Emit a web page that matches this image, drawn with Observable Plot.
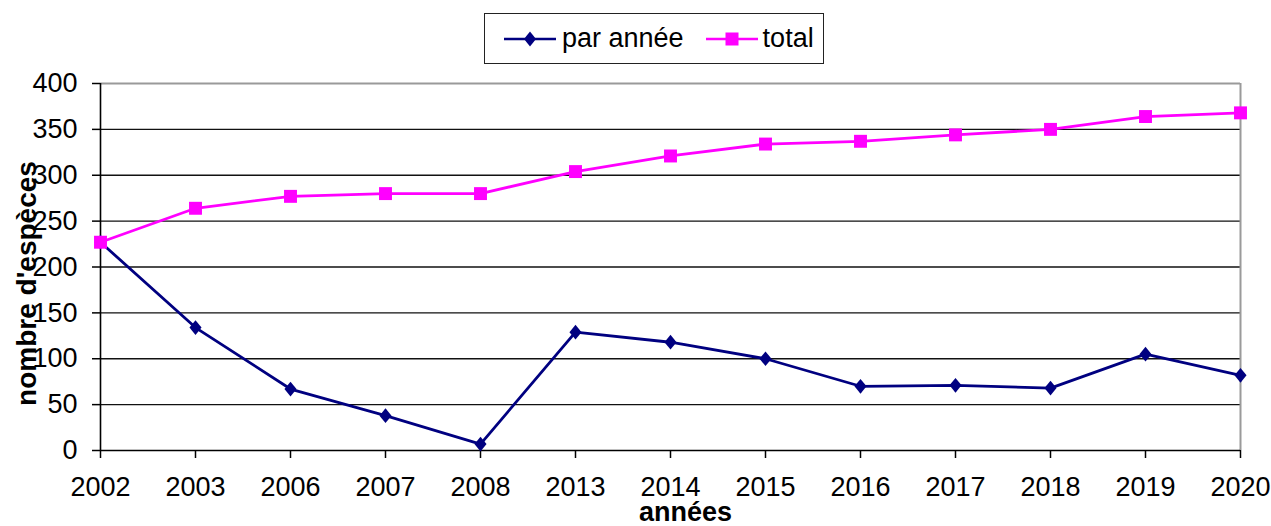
<!DOCTYPE html>
<html>
<head>
<meta charset="utf-8">
<script src="https://cdn.jsdelivr.net/npm/d3@7"></script>
<script src="https://cdn.jsdelivr.net/npm/@observablehq/plot@0.6"></script>
<style>
  html, body { margin: 0; padding: 0; background: #fff; }
  body { width: 1271px; height: 526px; overflow: hidden; font-family: "Liberation Sans", Arial, sans-serif; }
  #legendWrap { position: relative; height: 70px; }
  #legend {
    position: absolute; left: 484px; top: 13px; width: 340px; height: 51px;
    box-sizing: border-box; border: 1.5px solid #222;
    display: flex; align-items: center; padding-left: 19px;
    font-size: 27px; color: #000;
  }
  #legend .sw { display: block; }
  #legend span { display: inline-block; line-height: 1; }
</style>
</head>
<body>
<div id="legendWrap"><div id="legend"></div></div>
<div id="chart"></div>
<script>
const years = ["2002","2003","2006","2007","2008","2013","2014","2015","2016","2017","2018","2019","2020"];
const parAnnee = [227, 134, 67, 38, 7, 129, 118, 100, 70, 71, 68, 105, 82];
const total = [227, 264, 277, 280, 280, 304, 321, 334, 337, 344, 350, 364, 368];
const yTicks = [0, 50, 100, 150, 200, 250, 300, 350, 400];
const seriesNames = ["par année", "total"];
const seriesColors = ["#000080", "#ff00ff"];

const rows = years.map((year, i) => ({year, parAnnee: parAnnee[i], total: total[i]}));

const diamond = {
  draw(context, size) {
    const h = Math.sqrt(size) * 0.99;
    const w = h * 0.82;
    context.moveTo(0, -h);
    context.lineTo(w, 0);
    context.lineTo(0, h);
    context.lineTo(-w, 0);
    context.closePath();
  }
};

// Legend (HTML)
const legend = document.getElementById("legend");
function swatch(kind, color) {
  const ns = "http://www.w3.org/2000/svg";
  const svg = document.createElementNS(ns, "svg");
  svg.setAttribute("width", 52); svg.setAttribute("height", 20);
  svg.setAttribute("class", "sw");
  const line = document.createElementNS(ns, "line");
  line.setAttribute("x1", 0); line.setAttribute("x2", 52);
  line.setAttribute("y1", 10); line.setAttribute("y2", 10);
  line.setAttribute("stroke", color); line.setAttribute("stroke-width", 2.5);
  svg.appendChild(line);
  if (kind === "diamond") {
    const p = document.createElementNS(ns, "path");
    p.setAttribute("d", "M26,2.5L32,10L26,17.5L20,10Z");
    p.setAttribute("fill", color);
    svg.appendChild(p);
  } else {
    const r = document.createElementNS(ns, "rect");
    r.setAttribute("x", 19.5); r.setAttribute("y", 3.5);
    r.setAttribute("width", 13); r.setAttribute("height", 13);
    r.setAttribute("fill", color);
    svg.appendChild(r);
  }
  return svg;
}
const s1 = swatch("diamond", seriesColors[0]);
legend.appendChild(s1);
const t1 = document.createElement("span"); t1.textContent = seriesNames[0]; t1.style.marginLeft = "6px";
legend.appendChild(t1);
const s2 = swatch("square", seriesColors[1]); s2.style.marginLeft = "22px";
legend.appendChild(s2);
const t2 = document.createElement("span"); t2.textContent = seriesNames[1]; t2.style.marginLeft = "5px";
legend.appendChild(t2);

const chart = Plot.plot({
  width: 1271,
  height: 456,
  marginTop: 13,
  marginBottom: 76,
  marginLeft: 100,
  marginRight: 31,
  style: {fontFamily: "'Liberation Sans', Arial, sans-serif", fontSize: "27px", color: "#000", background: "transparent", overflow: "visible"},
  x: {type: "point", domain: years, padding: 0},
  y: {domain: [0, 400]},
  marks: [
    Plot.ruleY(yTicks.filter(v => v > 0 && v < 400), {stroke: "#111", strokeWidth: 1.4}),
    Plot.ruleY([400], {stroke: "#9a9a9a", strokeWidth: 2}),
    Plot.ruleX([years[years.length - 1]], {stroke: "#9a9a9a", strokeWidth: 2}),
    Plot.axisY({ticks: yTicks, tickSize: 8, tickPadding: 15, label: null, fontSize: 27, strokeWidth: 1.5}),
    Plot.axisX({tickSize: 8, tickPadding: 18, label: null, fontSize: 27, strokeWidth: 1.5}),
    Plot.ruleY([0], {stroke: "#000", strokeWidth: 1.6}),
    Plot.ruleX([years[0]], {stroke: "#000", strokeWidth: 1.6}),
    Plot.line(rows, {x: "year", y: "parAnnee", stroke: seriesColors[0], strokeWidth: 2.8}),
    Plot.line(rows, {x: "year", y: "total", stroke: seriesColors[1], strokeWidth: 2.8}),
    Plot.dot(rows, {x: "year", y: "parAnnee", symbol: diamond, r: 4.2, fill: seriesColors[0], stroke: null}),
    Plot.dot(rows, {x: "year", y: "total", symbol: "square", r: 7.3, fill: seriesColors[1], stroke: null}),
    Plot.text(["années"], {frameAnchor: "bottom", textAnchor: "middle", dx: 15, dy: 70, fontWeight: "bold", fontSize: 27}),
    Plot.text(["nombre d'espèces"], {frameAnchor: "left", textAnchor: "middle", rotate: -90, dx: -73.5, dy: 16.5, fontWeight: "bold", fontSize: 28})
  ]
});
document.getElementById("chart").appendChild(chart);
</script>
</body>
</html>
